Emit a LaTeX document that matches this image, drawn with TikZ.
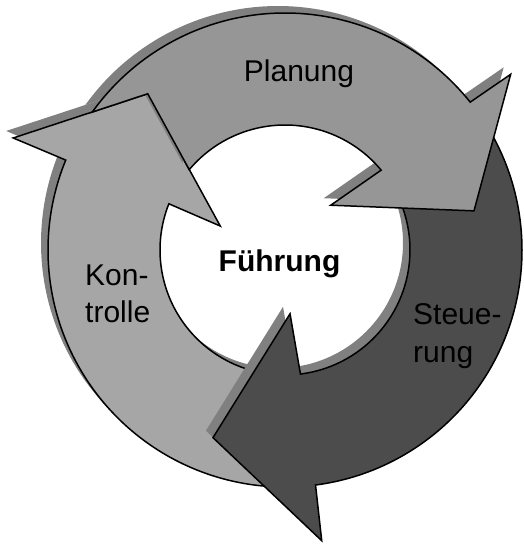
\documentclass[tikz,border=0pt]{standalone}
\usepackage{fontspec}
\setmainfont{Liberation Sans}
\definecolor{kcol}{gray}{0.65}
\definecolor{pcol}{gray}{0.59}
\definecolor{scol}{gray}{0.30}
\definecolor{shcol}{gray}{0.5}
\newcommand\kontrollepath{(270:237) arc[start angle=270,end angle=157.7,radius=237] -- (157.6:294) -- (131.3:208) -- (159.7:69) -- (158.3:125) arc[start angle=158.3,end angle=270,radius=125] -- cycle}
\newcommand\steuerungpath{(30:237) arc[start angle=30,end angle=-82.6,radius=237] -- (-82.8:293) -- (-111:201) -- (-85.5:64) -- (-82.9:125) arc[start angle=-82.9,end angle=30,radius=125] -- cycle}
\newcommand\planungpath{(144.4:237) arc[start angle=144.4,end angle=38.6,radius=237] -- (37.9:286) -- (11.7:193) -- (44.4:64) -- (39.7:125) arc[start angle=39.7,end angle=140,radius=125] -- (131.3:208) -- cycle}
\begin{document}
\begin{tikzpicture}[x=1pt,y=1pt,
  outl/.style={draw=black,line width=1.5pt,line join=miter,miter limit=4},
  shd/.style={fill=shcol,shift={(-7,7)}},
  lbl/.style={font=\fontsize{30}{37}\selectfont,inner sep=0pt}]
\useasboundingbox (-285,-295) rectangle (238,250);
% Kontrolle (bottom)
\fill[shd] \kontrollepath;
\filldraw[outl,fill=kcol] \kontrollepath;
% Steuerung
\fill[shd] \steuerungpath;
\filldraw[outl,fill=scol] \steuerungpath;
% Planung (top)
\fill[shd] \planungpath;
\filldraw[outl,fill=pcol] \planungpath;
% labels
\node[lbl,anchor=base] (plan) at (14,168) {Planung};
\node[lbl,anchor=base,font={\fontsize{30}{37}\selectfont\bfseries}] (fuehr) at (-5.5,-22) {Führung};
\node[lbl,anchor=base west,align=left] (kontr) at (-200,-73) {Kon-\\trolle};
\node[lbl,anchor=base west,align=left] (steu) at (128,-112) {Steue-\\rung};
\end{tikzpicture}
\end{document}
